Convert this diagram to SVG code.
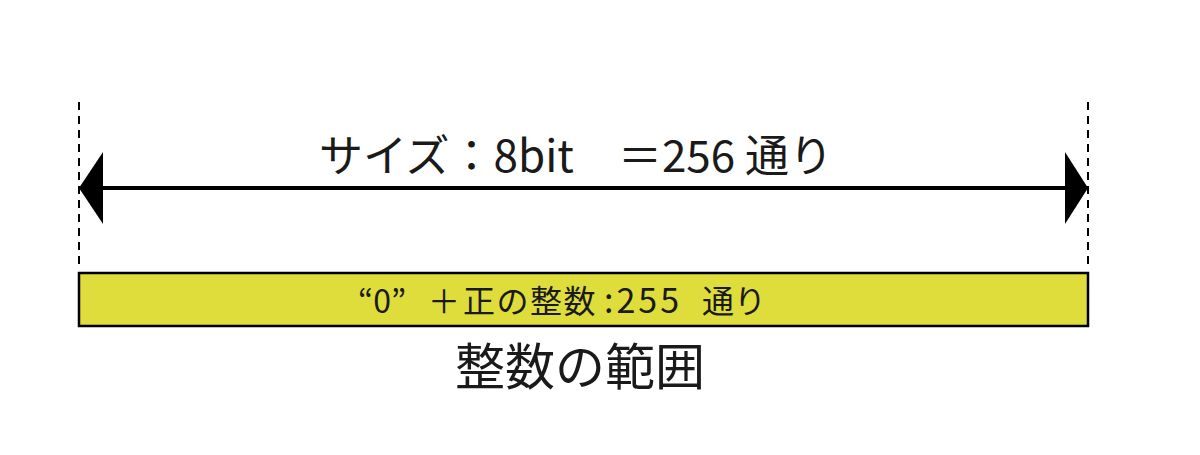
<svg xmlns="http://www.w3.org/2000/svg" width="1200" height="455" viewBox="0 0 1200 455">
<style>
.t{font-family:"Noto Sans CJK JP","Noto Sans",sans-serif;fill:#1a1a1a}
.dash{stroke:#000;stroke-width:2;stroke-dasharray:8,6;fill:none}
</style>
<rect width="1200" height="455" fill="#fff"/>
<g id="connectors">
<line class="dash" x1="79" y1="102" x2="79" y2="268"/>
<line class="dash" x1="1088" y1="102" x2="1088" y2="268"/>
<line x1="100" y1="188" x2="1068" y2="188" stroke="#000" stroke-width="4"/>
<polygon points="79,188 103,152 103,224" fill="#000"/>
<polygon points="1088,188 1065,152 1065,224" fill="#000"/>
</g>
<g id="size-label">
<text class="t" x="576" y="172" font-size="44" text-anchor="middle">サイズ：8bit　＝256 通り</text>
</g>
<g id="range-bar">
<rect x="79" y="273" width="1009" height="53" fill="#dedd3b" stroke="#000" stroke-width="2.5"/>
<text class="t" y="313" font-size="32"><tspan x="358">“0”</tspan><tspan x="428">＋</tspan><tspan x="463" letter-spacing="1.5">正の整数</tspan><tspan x="604" font-size="34" letter-spacing="3">:255</tspan><tspan x="702">通り</tspan></text>
</g>
<g id="title">
<text class="t" x="580" y="385" font-size="50" text-anchor="middle">整数の範囲</text>
</g>
</svg>
